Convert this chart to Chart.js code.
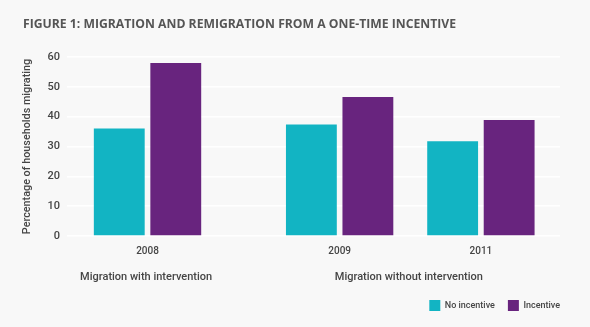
<!DOCTYPE html>
<html>
<head>
<meta charset="utf-8">
<script src="https://cdn.jsdelivr.net/npm/chart.js@4"></script>
<style>
html, body { margin: 0; padding: 0; background: #f8f8f8; }
#wrap { position: relative; width: 590px; height: 327px; }
</style>
</head>
<body>
<div id="wrap"><canvas id="chart"></canvas></div>
<script>
const years = ['2008', '2009', '2011'];
const noIncentive = [36, 37.4, 31.8];
const incentive = [58, 46.6, 38.9];
const yTicks = [0, 10, 20, 30, 40, 50, 60];
const groups = ['Migration with intervention', 'Migration without intervention'];

// where each year sits on the x axis (2008 stands apart from 2009/2011)
const slots = [0, 1.36, 2.36];
const groupAt = [-0.01, 1.85];

const textColor = '#454545';

// group captions under the year labels
const groupLabels = {
  id: 'groupLabels',
  afterDraw(chart) {
    const x = chart.scales.x;
    const c = chart.ctx;
    c.save();
    c.font = '500 11px Roboto';
    c.fillStyle = textColor;
    c.textAlign = 'center';
    c.textBaseline = 'middle';
    groups.forEach((g, i) => {
      c.fillText(g, x.getPixelForValue(groupAt[i]), x.top + 41);
    });
    c.restore();
  }
};

// legend ends flush with the plot's right edge
const legendShift = {
  id: 'legendShift',
  afterLayout(chart) {
    chart.legend.right += 13;
  }
};

const ctx = document.getElementById('chart');
new Chart(ctx, {
  type: 'bar',
  data: {
    datasets: [
      {
        label: 'No incentive',
        data: noIncentive.map((v, i) => ({x: slots[i], y: v})),
        backgroundColor: '#12b4c3'
      },
      {
        label: 'Incentive',
        data: incentive.map((v, i) => ({x: slots[i], y: v})),
        backgroundColor: '#68247e'
      }
    ]
  },
  options: {
    responsive: true,
    maintainAspectRatio: false,
    animation: false,
    categoryPercentage: 0.8,
    barPercentage: 0.9,
    layout: {padding: {left: 23, right: 30, top: 0, bottom: 6}},
    scales: {
      x: {
        type: 'linear',
        min: -0.57,
        max: 2.92,
        offset: false,
        grid: {display: false, drawTicks: false},
        border: {display: false},
        afterBuildTicks: s => { s.ticks = slots.map(v => ({value: v})); },
        afterFit: s => { s.height = 51; },
        ticks: {
          callback: v => years[slots.indexOf(v)],
          color: textColor,
          font: {family: 'Roboto', size: 10, weight: 500},
          padding: 9,
          autoSkip: false,
          maxRotation: 0
        }
      },
      y: {
        min: 0,
        max: 60,
        afterBuildTicks: s => { s.ticks = yTicks.map(v => ({value: v})); },
        afterFit: s => { s.width = 44; },
        grid: {color: '#ffffff', lineWidth: 1.5, drawTicks: false},
        border: {display: false},
        ticks: {color: textColor, font: {family: 'Roboto', size: 11, weight: 500}, padding: 7},
        title: {
          display: true,
          text: 'Percentage of households migrating',
          color: textColor,
          font: {family: 'Roboto', size: 10.8, weight: 500},
          padding: {top: -2, bottom: 0}
        }
      }
    },
    plugins: {
      title: {
        display: true,
        text: 'FIGURE 1: MIGRATION AND REMIGRATION FROM A ONE-TIME INCENTIVE',
        align: 'start',
        color: '#555555',
        font: {family: 'Open Sans', size: 12.2, weight: 'bold'},
        padding: {top: 17.7, bottom: 24.7}
      },
      legend: {
        position: 'bottom',
        align: 'end',
        labels: {
          boxWidth: 11,
          boxHeight: 11,
          color: textColor,
          font: {family: 'Roboto', size: 9, weight: 500},
          padding: 13
        }
      },
      tooltip: {enabled: false}
    }
  },
  plugins: [groupLabels, legendShift]
});
</script>
</body>
</html>
